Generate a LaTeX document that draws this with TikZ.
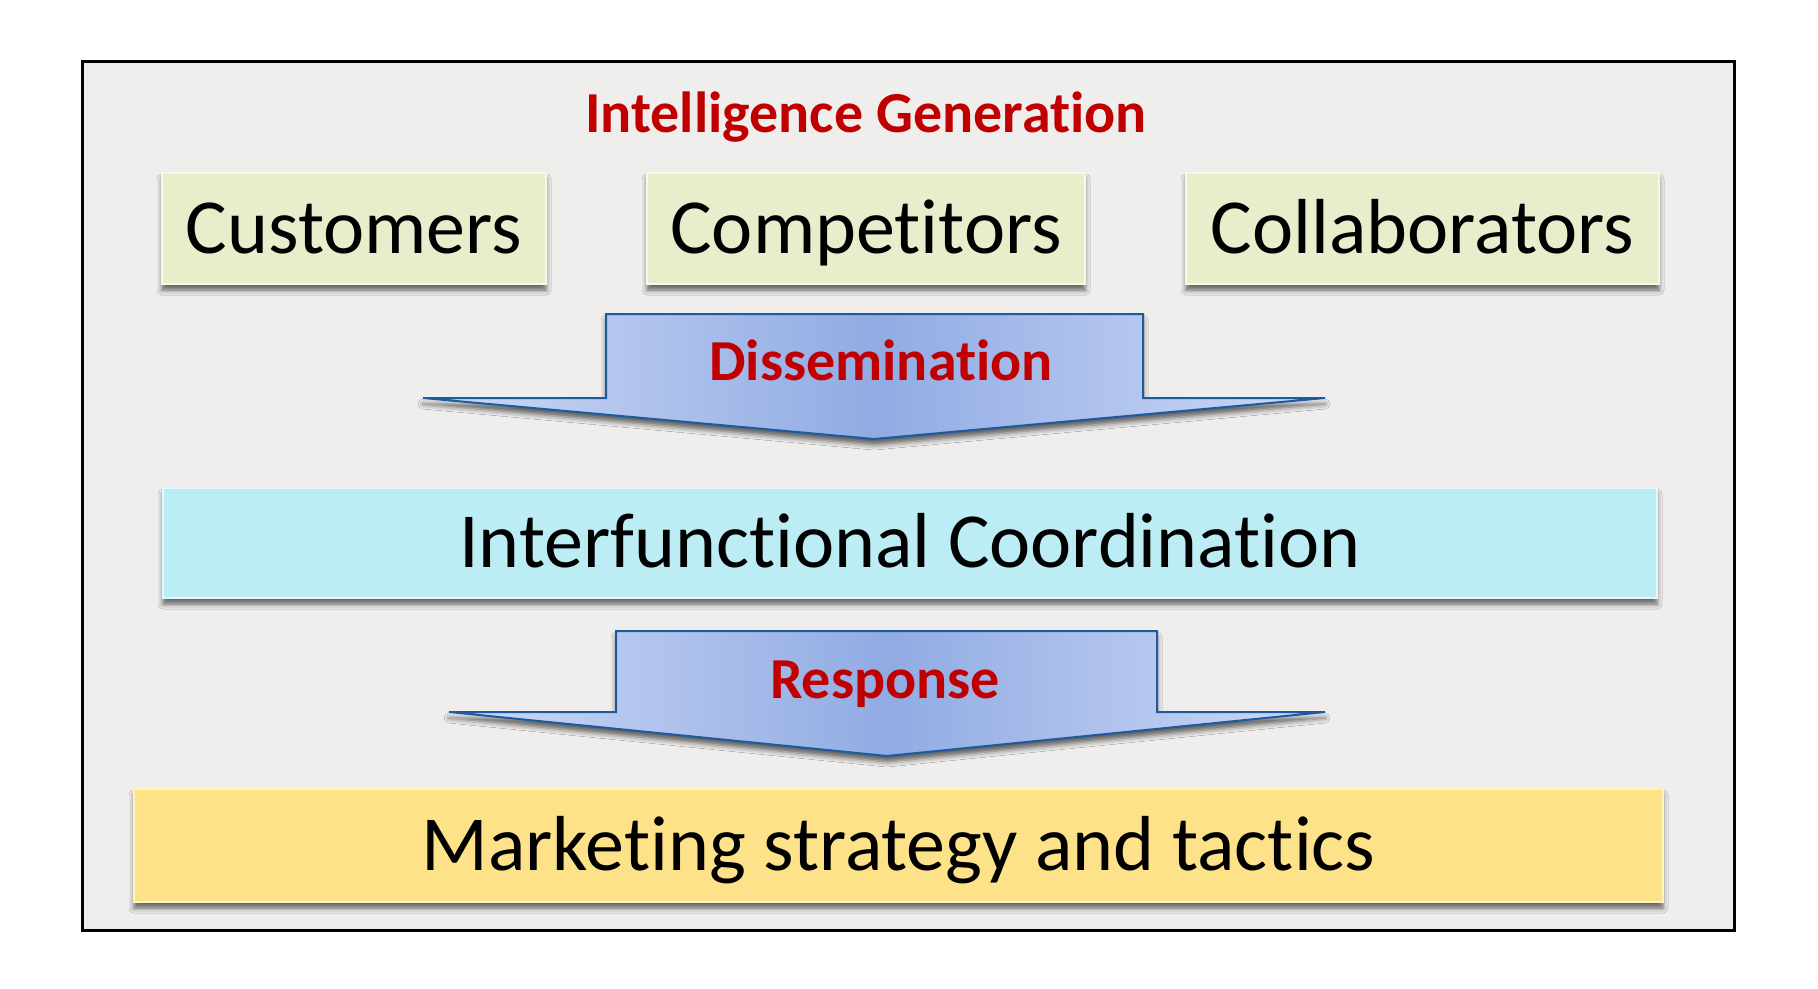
\documentclass[tikz,border=0pt]{standalone}
\usepackage{fontspec}
\setmainfont{Carlito}[Ligatures=NoCommon]
\usetikzlibrary{shadows.blur}

\definecolor{paper}{RGB}{239,238,236}
\definecolor{headred}{RGB}{192,0,0}
\definecolor{sourcefill}{RGB}{230,238,204}
\definecolor{sourceedge}{RGB}{246,249,232}
\definecolor{coordfill}{RGB}{188,237,245}
\definecolor{coordedge}{RGB}{225,248,252}
\definecolor{stratfill}{RGB}{253,226,138}
\definecolor{stratedge}{RGB}{255,244,192}
\definecolor{flowlight}{RGB}{205,218,246}
\definecolor{flowdark}{RGB}{145,171,227}
\definecolor{flowline}{RGB}{30,90,160}

\begin{document}
\begin{tikzpicture}[x=1pt,y=-1pt,
  softshadow/.style={blur shadow={shadow xshift=0pt,shadow yshift=-6pt,
      shadow blur radius=5pt,shadow opacity=60}},
  panel/.style={rectangle,inner sep=0pt,line width=2.5pt,
      text height=49pt,text depth=0pt,
      font=\fontsize{78}{90}\selectfont,softshadow},
  source/.style={panel,fill=sourcefill,draw=sourceedge,
      minimum width=384pt,minimum height=111pt},
  coordbox/.style={panel,fill=coordfill,draw=coordedge,
      minimum width=1494pt,minimum height=110pt},
  stratbox/.style={panel,fill=stratfill,draw=stratedge,
      minimum width=1529pt,minimum height=113pt},
  heading/.style={text=headred,inner sep=0pt,text height=36.5pt,text depth=0pt,
      font=\fontsize{58}{66}\selectfont\bfseries},
  flow/.style={draw=flowline,line width=2pt,line join=miter,
      left color=flowlight,right color=flowlight,middle color=flowdark,softshadow}
]
% canvas and framed panel
\fill[white] (0,0) rectangle (1818,988);
\useasboundingbox (0,0) rectangle (1818,988);
\draw[line width=3pt,fill=paper] (82,61) rectangle (1734,930);

% title
\node[heading] (gen) at (866,114) {Intelligence Generation};

% intelligence sources
\node[source] (cust)  at (354,228.5)  {Customers};
\node[source,minimum width=438pt] (comp) at (866,228.5) {Competitors};
\node[source,minimum width=473pt] (coll) at (1422.5,228.5) {Collaborators};

% dissemination arrow
\path[flow] (606,314) -- (1143,314) -- (1143,398) -- (1325,398)
  -- (874,439) -- (423,398) -- (606,398) -- cycle;
\node[heading] (diss) at (881,362.5) {Dissemination};

% coordination bar
\node[coordbox] (coord) at (910,543) {Interfunctional Coordination};

% response arrow
\path[flow] (616,631) -- (1157,631) -- (1157,712) -- (1325,712)
  -- (887,756) -- (449,712) -- (616,712) -- cycle;
\node[heading] (resp) at (885,680) {Response};

% strategy bar
\node[stratbox] (strat) at (898.5,845.5) {Marketing strategy and tactics};
\end{tikzpicture}
\end{document}
